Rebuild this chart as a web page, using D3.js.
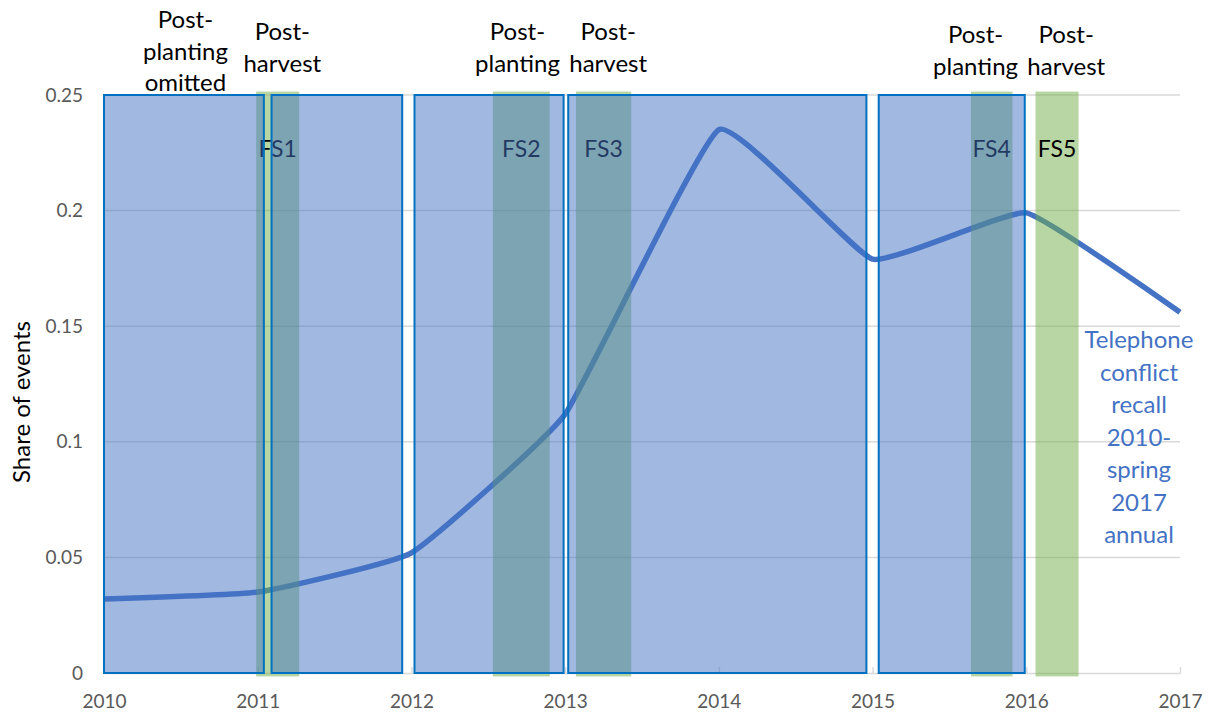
<!DOCTYPE html>
<html>
<head>
<meta charset="utf-8">
<script src="https://cdnjs.cloudflare.com/ajax/libs/d3/7.8.5/d3.min.js"></script>
<style>
  html, body { margin: 0; padding: 0; background: #fff; }
  svg { display: block; font-family: Lato, "Open Sans", sans-serif; }
</style>
</head>
<body>
<svg id="chart"></svg>
<script>
// Annual share of events (telephone recall)
const years = [2010, 2011, 2012, 2013, 2014, 2015, 2016, 2017];
const share = [0.032, 0.035, 0.052, 0.112, 0.235, 0.179, 0.199, 0.156];

const yTicks = [0, 0.05, 0.1, 0.15, 0.2, 0.25];
const yTickLabels = ["0", "0.05", "0.1", "0.15", "0.2", "0.25"];

// Recall periods (blue boxes), in fractional years
const recallStart = [2010.0, 2011.09, 2012.02, 2013.02, 2015.04];
const recallEnd = [2011.04, 2011.94, 2012.99, 2014.96, 2015.99];

// Field survey windows (green bands)
const fsNames = ["FS1", "FS2", "FS3", "FS4", "FS5"];
const fsStart = [2010.99, 2012.53, 2013.07, 2015.64, 2016.06];
const fsEnd = [2011.27, 2012.9, 2013.43, 2015.91, 2016.34];

// Season labels over the chart
const seasonText = [
    ["Post-", "planting", "omitted"],
    ["Post-", "harvest"],
    ["Post-", "planting"],
    ["Post-", "harvest"],
    ["Post-", "planting"],
    ["Post-", "harvest"]
];
const seasonAt = [2010.53, 2011.16, 2012.69, 2013.28, 2015.67, 2016.26];
const seasonTop = [20, 32, 32, 32, 35, 35];

const seriesLabel = ["Telephone", "conflict", "recall", "2010-", "spring", "2017", "annual"];

const width = 1210, height = 715;
const plot = { left: 104, right: 1180, top: 95, bottom: 673 };

const svg = d3.select("#chart")
    .attr("width", width)
    .attr("height", height);

const x = d3.scaleLinear().domain([2010, 2017]).range([plot.left, plot.right]);
const y = d3.scaleLinear().domain([0, 0.25]).range([plot.bottom, plot.top]);

// Gridlines
svg.append("g")
    .selectAll("line")
    .data(yTicks.slice(1))
    .enter().append("line")
    .attr("x1", plot.left)
    .attr("x2", plot.right)
    .attr("y1", d => y(d))
    .attr("y2", d => y(d))
    .attr("stroke", "#d9d9d9")
    .attr("stroke-width", 1.5);

// X axis
const xAxis = svg.append("g")
    .attr("transform", `translate(0,${plot.bottom})`)
    .call(d3.axisBottom(x).tickValues(years).tickFormat(d3.format("d")).tickSizeInner(-6).tickSizeOuter(0).tickPadding(22));
xAxis.select(".domain").attr("stroke", "#d9d9d9").attr("stroke-width", 1.5);
xAxis.selectAll(".tick line").attr("stroke", "#d9d9d9").attr("stroke-width", 1.5);
xAxis.selectAll("text")
    .attr("fill", "#595959")
    .style("font-size", "19px")
    .style("font-family", "Lato, sans-serif");

// Y axis labels
const yAxis = svg.append("g")
    .attr("transform", `translate(${plot.left},0)`)
    .call(d3.axisLeft(y).tickValues(yTicks).tickFormat((d, i) => yTickLabels[i]).tickSize(0).tickPadding(21));
yAxis.select(".domain").remove();
yAxis.selectAll("text")
    .attr("fill", "#595959")
    .style("font-size", "19px")
    .style("font-family", "Lato, sans-serif");

// Series line (lightly smoothed, like the spreadsheet)
const line = d3.line()
    .x((d, i) => x(years[i]))
    .y(d => y(d))
    .curve(d3.curveCardinal.tension(0.65));

svg.append("path")
    .datum(share)
    .attr("d", line)
    .attr("fill", "none")
    .attr("stroke", "#4472c4")
    .attr("stroke-width", 5.5)
    .attr("stroke-linejoin", "round");

// Green survey bands
const fs = svg.append("g").attr("class", "fs");
fs.selectAll("rect")
    .data(fsNames)
    .enter().append("rect")
    .attr("x", (d, i) => x(fsStart[i]))
    .attr("width", (d, i) => x(fsEnd[i]) - x(fsStart[i]))
    .attr("y", y(0.2515))
    .attr("height", y(-0.0015) - y(0.2515))
    .attr("fill", "#70ad47")
    .attr("fill-opacity", 0.5);

fs.selectAll("text")
    .data(fsNames)
    .enter().append("text")
    .attr("x", (d, i) => x((fsStart[i] + fsEnd[i]) / 2))
    .attr("y", y(0.2265))
    .attr("dy", "0.35em")
    .attr("text-anchor", "middle")
    .style("font-size", "23px")
    .attr("fill", "#000")
    .text(d => d);

// Blue recall boxes
svg.append("g")
    .selectAll("rect")
    .data(recallStart)
    .enter().append("rect")
    .attr("x", (d, i) => x(d))
    .attr("width", (d, i) => x(recallEnd[i]) - x(d))
    .attr("y", y(0.25))
    .attr("height", y(0) - y(0.25))
    .attr("fill", "#4472c4")
    .attr("fill-opacity", 0.5)
    .attr("stroke", "#0070c0")
    .attr("stroke-width", 2);

// Season labels
seasonText.forEach((lines, i) => {
    const t = svg.append("text")
        .attr("text-anchor", "middle")
        .style("font-size", "24px")
        .attr("fill", "#000");
    lines.forEach((s, j) => {
        t.append("tspan")
            .attr("x", x(seasonAt[i]))
            .attr("y", seasonTop[i] + j * 31.5)
            .attr("dy", "0.35em")
            .text(s);
    });
});

// Series label on the right
const lab = svg.append("text")
    .attr("text-anchor", "middle")
    .style("font-size", "24px")
    .attr("fill", "#4472c4");
seriesLabel.forEach((s, j) => {
    lab.append("tspan")
        .attr("x", 1139)
        .attr("y", 340 + j * 32.5)
        .attr("dy", "0.35em")
        .text(s);
});

// Y axis title
svg.append("text")
    .attr("transform", `translate(22,${(plot.top + plot.bottom) / 2 + 18}) rotate(-90)`)
    .attr("text-anchor", "middle")
    .attr("dy", "0.35em")
    .style("font-size", "24px")
    .attr("fill", "#000")
    .text("Share of events");
</script>
</body>
</html>
